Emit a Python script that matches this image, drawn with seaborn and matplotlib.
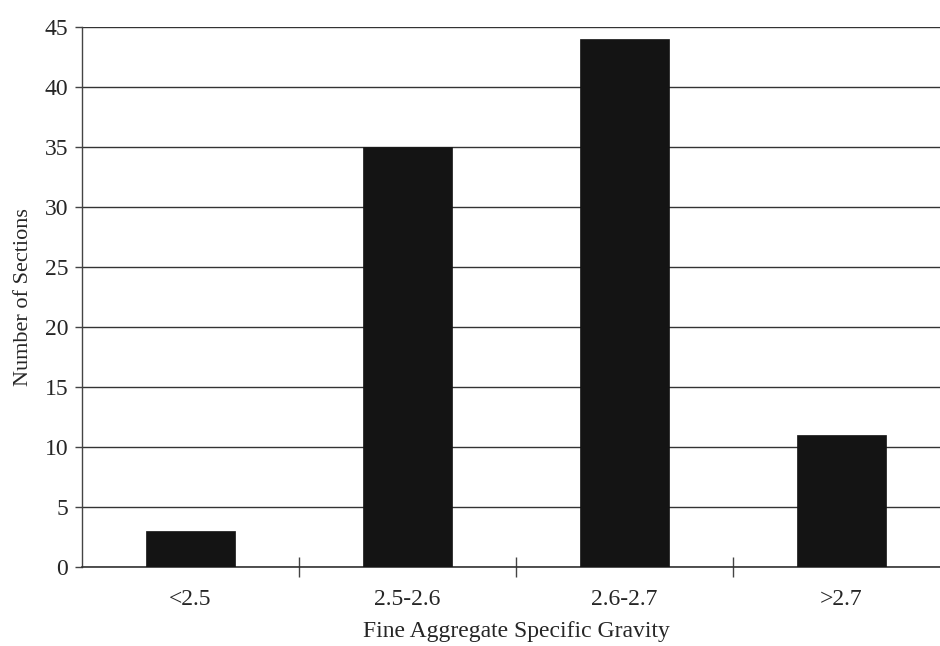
import matplotlib
matplotlib.use("Agg")
import matplotlib.pyplot as plt
import seaborn as sns
import pandas as pd
from matplotlib.ticker import FixedLocator

categories = ["<2.5", "2.5-2.6", "2.6-2.7", ">2.7"]
sections = [3, 35, 44, 11]
y_ticks = [0, 5, 10, 15, 20, 25, 30, 35, 40, 45]

sns.set_style("white")
plt.rcParams["font.family"] = ["Liberation Serif", "DejaVu Serif"]

df = pd.DataFrame({"gravity": categories, "count": sections})

fig = plt.figure(figsize=(9.4, 6.46), dpi=100)
ax = fig.add_axes([82 / 940, 79 / 646, 868 / 940, 540 / 646])

sns.barplot(data=df, x="gravity", y="count", color="#141414", width=0.41,
            saturation=1, edgecolor="#141414", linewidth=0.5, ax=ax, zorder=3)

ax.set_ylim(0, 45)
ax.set_xlim(-0.5, 3.5)
ax.set_yticks(y_ticks)
ax.yaxis.grid(True, color="#333333", linewidth=1.0, zorder=0)
ax.set_axisbelow(True)

for s in ["top", "right"]:
    ax.spines[s].set_visible(False)
ax.spines["left"].set_color("#444444")
ax.spines["bottom"].set_color("#333333")
ax.spines["left"].set_linewidth(1.0)
ax.spines["bottom"].set_linewidth(1.2)

ax.tick_params(axis="y", which="major", length=5, width=1, color="#444444",
               labelsize=17, pad=5, left=True)
ax.tick_params(axis="x", which="major", length=0, labelsize=17, pad=16)
ax.xaxis.set_minor_locator(FixedLocator([0.5, 1.5, 2.5]))
ax.tick_params(axis="x", which="minor", bottom=True, direction="inout",
               length=14, width=1, color="#444444")

ax.set_xlabel("Fine Aggregate Specific Gravity", fontsize=17, labelpad=8)
ax.set_ylabel("Number of Sections", fontsize=16, labelpad=8)

fig.savefig("out.png", dpi=100)
